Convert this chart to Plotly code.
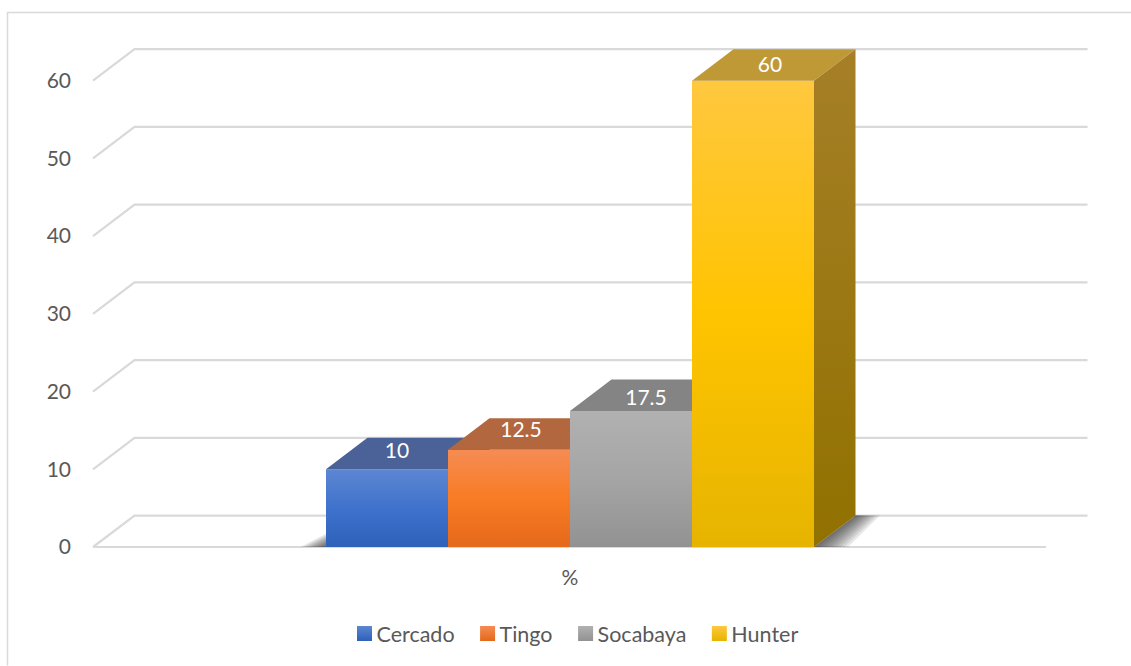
import plotly.graph_objects as go

# ---- data
series = ["Cercado", "Tingo", "Socabaya", "Hunter"]
values = [10, 12.5, 17.5, 60]
category = "%"
y_ticks = [0, 10, 20, 30, 40, 50, 60]

# ---- styles: front gradient stops (bottom, middle, top), top face, side face
front_colors = [
    ["#2E61BA", "#3F72CC", "#5D86D2"],
    ["#E4691A", "#F97B24", "#F58C54"],
    ["#929292", "#A5A5A5", "#B1B1B1"],
    ["#E6B400", "#FFC400", "#FFC83F"],
]
top_colors = ["#4A6298", "#B3673F", "#848484", "#C09937"]
side_colors = [["#2A4A85", "#3F5F99"], ["#A84F17", "#B3673F"],
               ["#6E6E6E", "#7E7E7E"], ["#917100", "#A67F27"]]
GRID = "#D9D9D9"
TEXT = "#595959"
FONT = "Lato"
FONT_SIZE = 21
label_shift_x_px = [10, 12, 15, 17]   # label offset from the bar centre
label_shift_y_px = [17, 18, 11, 14]   # label offset above the bar's front edge

# ---- projection (pixels of the figure -> data units)
W, H = 1131, 666
LEFT, BASE = 88, 547.5          # plot area left edge / zero line
BAR_PX, UNIT_PX = 122.0, 7.78   # one bar width, one value unit
FIRST_BAR_PX = 326
PAD_PX = 4                      # room under the zero line so the floor line is not clipped
DX, DY = 41.5 / BAR_PX, 31.5 / UNIT_PX   # oblique depth offset
x_range = [(LEFT - FIRST_BAR_PX) / BAR_PX, (W - FIRST_BAR_PX) / BAR_PX]
y_range = [-PAD_PX / UNIT_PX, BASE / UNIT_PX]
FLOOR_L, FLOOR_R = (93 - FIRST_BAR_PX) / BAR_PX, (1046 - FIRST_BAR_PX) / BAR_PX
AXIS_B = BASE + PAD_PX

fig = go.Figure()

# back wall, side wall and floor lines
gx, gy = [], []
for t in y_ticks:
    gx += [FLOOR_L, FLOOR_L + DX, FLOOR_R + DX, None]
    gy += [t, t + DY, t + DY, None]
gx += [FLOOR_L, FLOOR_R]
gy += [0, 0]
fig.add_trace(go.Scatter(x=gx, y=gy, mode="lines", cliponaxis=False,
                         line=dict(color=GRID, width=2.2), showlegend=False, hoverinfo="skip"))


def poly(xs, ys, fill=None, gradient=None):
    kw = dict(x=xs, y=ys, mode="lines", fill="toself", line=dict(width=0),
              showlegend=False, hoverinfo="skip", cliponaxis=False)
    if gradient:
        kw["fillgradient"] = dict(type="vertical", colorscale=gradient)
    else:
        kw["fillcolor"] = fill
    fig.add_trace(go.Scatter(**kw))


# soft floor shadow on both sides of the block of bars
n_bars = len(values)
STEPS = 9
for k in range(STEPS, 0, -1):
    f = k / STEPS
    a = 0.10
    # right of the last bar's side face
    poly([n_bars, n_bars + DX, n_bars + DX + 0.20 * f, n_bars + 0.10 + 0.18 * f - 0.10 * (1 - f)],
         [0, DY, DY, 0], fill=f"rgba(30,30,30,{a})")
    # left of the first bar
    poly([0, -0.21 * f, 0], [0, 0, 1.7 * f], fill=f"rgba(30,30,30,{a})")

# bars, drawn left to right so each covers the previous one's side
for i, (name, v) in enumerate(zip(series, values)):
    l, r = i, i + 1
    poly([l, r, r, l, l], [0, 0, v, v, 0],
         gradient=[[0, front_colors[i][0]], [0.5, front_colors[i][1]], [1, front_colors[i][2]]])
    poly([l, r, r + DX, l + DX, l], [v, v, v + DY, v + DY, v], fill=top_colors[i])
    poly([r, r + DX, r + DX, r, r], [0, DY, v + DY, v, 0],
         gradient=[[0, side_colors[i][0]], [1, side_colors[i][1]]])

# value labels on the top faces
fig.add_trace(go.Scatter(
    x=[i + 0.5 + label_shift_x_px[i] / BAR_PX for i in range(n_bars)],
    y=[v + label_shift_y_px[i] / UNIT_PX for i, v in enumerate(values)],
    mode="text", text=[str(v) for v in values], textposition="middle center",
    textfont=dict(family=FONT, size=FONT_SIZE, color="white"),
    showlegend=False, hoverinfo="skip", cliponaxis=False))

# legend keys
for i, name in enumerate(series):
    fig.add_trace(go.Scatter(
        x=[None], y=[None], mode="markers", name=name,
        marker=dict(symbol="square", size=15, color=front_colors[i][2],
                    gradient=dict(type="vertical", color=front_colors[i][0]),
                    line=dict(width=0))))

PW = W - LEFT
PH = AXIS_B
fig.update_layout(
    width=W, height=H, autosize=False,
    margin=dict(l=LEFT, r=0, t=0, b=H - AXIS_B, pad=0),
    paper_bgcolor="white", plot_bgcolor="white",
    font=dict(family=FONT, size=FONT_SIZE, color=TEXT),
    showlegend=True,
    legend=dict(orientation="h", x=(570 - LEFT) / PW, xanchor="center",
                y=-(634 - AXIS_B) / PH, yanchor="middle",
                font=dict(family=FONT, size=21.5, color=TEXT),
                bgcolor="rgba(0,0,0,0)", itemwidth=30, traceorder="normal"),
    xaxis=dict(range=x_range, showgrid=False, zeroline=False, showline=False,
               tickmode="array", tickvals=[n_bars / 2], ticktext=[category],
               ticks="", ticklabelstandoff=12, fixedrange=True),
    yaxis=dict(range=y_range, showgrid=False, zeroline=False, showline=False,
               tickmode="array", tickvals=y_ticks, ticks="",
               ticklabelstandoff=16, fixedrange=True),
    shapes=[dict(type="path", xref="paper", yref="paper", layer="below",
                 path=f"M {(7.5 - LEFT) / PW} {-(H - AXIS_B) / PH} "
                      f"L {(7.5 - LEFT) / PW} {(AXIS_B - 12.5) / PH} L 1 {(AXIS_B - 12.5) / PH}",
                 line=dict(color=GRID, width=1.5))],
)

# the page's default body margin would push the fixed-size figure off the window;
# the legend keys sit closer to their labels in the reference
post = ("document.body.style.margin='0';"
        "document.querySelectorAll('.legendsymbols').forEach(function(e){"
        "e.setAttribute('transform','translate(8,0)');});")
fig.write_html("out.html", config=dict(displayModeBar=False), post_script=post)
